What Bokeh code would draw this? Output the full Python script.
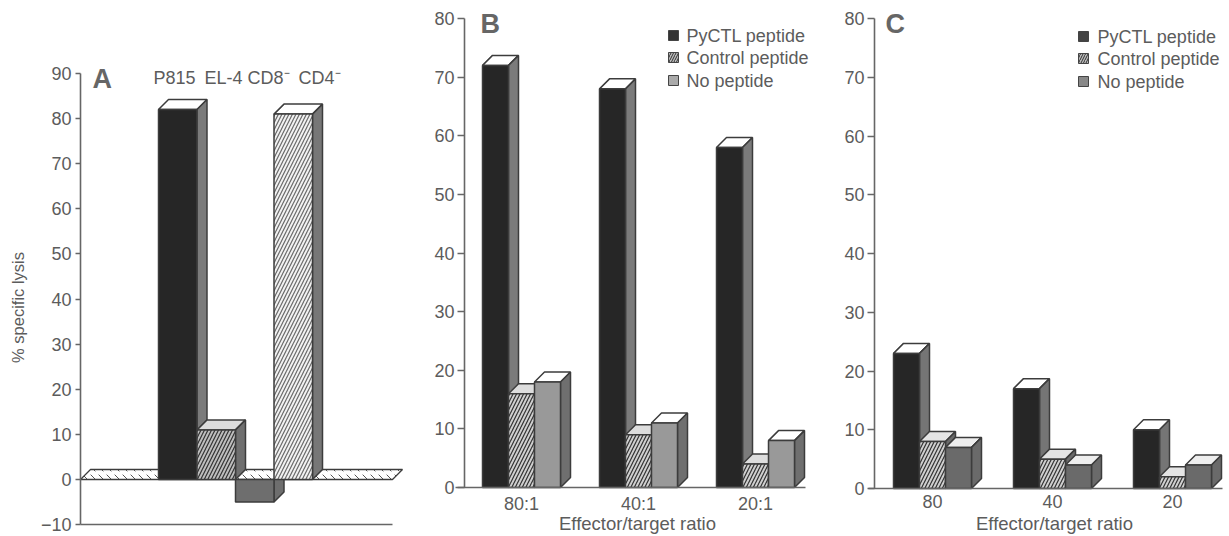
import math
from bokeh.plotting import figure
from bokeh.layouts import row
from bokeh.models import FixedTicker, Label
from bokeh.core.properties import value
from bokeh.embed import file_html
from bokeh.resources import INLINE

# ---- data ----
a_categories = ["P815", "EL-4", "CD8\u207b", "CD4\u207b"]
a_values = [82, 11, -5, 81]
a_ticks = [-10, 0, 10, 20, 30, 40, 50, 60, 70, 80, 90]

series_names = ["PyCTL peptide", "Control peptide", "No peptide"]
b_categories = ["80:1", "40:1", "20:1"]
b_pyctl = [72, 68, 58]
b_control = [16, 9, 4]
b_none = [18, 11, 8]
c_categories = ["80", "40", "20"]
c_pyctl = [23, 17, 10]
c_control = [8, 5, 2]
c_none = [7, 4, 4]
bc_ticks = [0, 10, 20, 30, 40, 50, 60, 70, 80]

TXT = "#5c5c5c"
AXC = "#666666"
EDGE = "#3c3c3c"
FONT = "Liberation Sans"
DEPTH = 10
FIG_H = 536


def make_panel(page_left, page_right, axis_px,
               zero_px, top_px, top_val, origin, xunit, ticks):
    sx = xunit
    sy = (zero_px - top_px) / top_val
    y_lo = -(FIG_H - zero_px) / sy
    y_hi = zero_px / sy
    x_start = (page_left - origin) / sx
    x_end = (page_right - origin) / sx
    p = figure(width=page_right - page_left, height=FIG_H,
               x_range=(x_start, x_end), y_range=(y_lo, y_hi),
               output_backend="svg", toolbar_location=None,
               min_border_left=0, min_border_right=0, min_border_top=0, min_border_bottom=0)
    p.grid.visible = False
    p.outline_line_color = None
    p.background_fill_color = "white"
    ya = p.yaxis[0]
    ya.ticker = FixedTicker(ticks=ticks)
    ya.bounds = (ticks[0], ticks[-1])
    ya.fixed_location = (axis_px - origin) / sx
    ya.minor_tick_line_color = None
    ya.major_tick_in = 0
    ya.major_tick_out = 7
    ya.axis_line_color = AXC
    ya.axis_line_width = 1.6
    ya.major_tick_line_color = AXC
    ya.major_tick_line_width = 1.4
    ya.major_label_standoff = 3
    ya.major_label_text_font = FONT
    ya.major_label_text_font_size = "18px"
    ya.major_label_text_color = TXT
    xa = p.xaxis[0]
    xa.fixed_location = ticks[0]
    xa.minor_tick_line_color = None
    xa.major_tick_line_color = None
    xa.axis_line_color = AXC
    xa.axis_line_width = 1.6
    xa.major_label_text_font = FONT
    xa.major_label_text_font_size = "18px"
    xa.major_label_text_color = TXT
    p._sx, p._sy, p._origin = sx, sy, origin
    p._zero = zero_px
    return p


def X(p, px):
    return (px - p._origin) / p._sx


def Y(p, py):
    return (p._zero - py) / p._sy


def bar(p, x0, x1, v, front, side, top, hatch=None, hatch_color="#333333", scale=7.0):
    dx = DEPTH / p._sx
    dy = DEPTH / p._sy
    lw = 1.5
    if v >= 0:
        p.patch([x0, x0 + dx, x1 + dx, x1], [v, v + dy, v + dy, v],
                fill_color=top, line_color=EDGE, line_width=lw)
    p.patch([x1, x1 + dx, x1 + dx, x1], [0, dy, v + dy, v],
            fill_color=side, line_color=EDGE, line_width=lw)
    kw = {}
    if hatch:
        kw = dict(hatch_pattern=hatch, hatch_color=hatch_color, hatch_scale=scale, hatch_weight=1.2)
    p.patch([x0, x1, x1, x0], [0, 0, v, v], fill_color=front, line_color=EDGE, line_width=lw, **kw)


def put_text(p, px, py, s, size="18px", style="normal", color=TXT, align="left"):
    p.text([X(p, px)], [Y(p, py)], text=[s], text_font=value(FONT), text_font_size=value(size),
           text_font_style=style, text_color=color, text_align=align, text_baseline="middle")


def axis_title(p, px, py, s, size="18.5px", angle=0.0):
    p.add_layout(Label(x=X(p, px), y=Y(p, py), text=s, text_font=FONT, text_font_size=size,
                       text_color=TXT, text_align="center", text_baseline="middle", angle=angle))


def legend(p, box_x, text_x, ys, fills, hatches):
    for name, y, f, h in zip(series_names, ys, fills, hatches):
        kw = {}
        if h:
            kw = dict(hatch_pattern=h, hatch_color="#333333", hatch_scale=5.0, hatch_weight=1.0)
        p.rect([X(p, box_x)], [Y(p, y)], width=10 / p._sx, height=10 / p._sy,
               fill_color=f, line_color="#444444", line_width=1, **kw)
        put_text(p, text_x, y, name)


def grouped(p, bw, series, styles):
    for g in range(len(series[0])):
        for s, vals in enumerate(series):
            bar(p, g + s * bw, g + (s + 1) * bw, vals[g], **styles[s])


# ---- panel A ----
pa = make_panel(0, 420, 80, 479, 73, 90, 158, 38.5, a_ticks)
pa.xaxis[0].ticker = FixedTicker(ticks=[])
pa.xaxis[0].bounds = (X(pa, 80), X(pa, 392))
pa.yaxis[0].major_tick_out = 5
pa.yaxis[0].major_label_standoff = 4
axis_title(pa, 17, 307, "% specific lysis", size="16.5px", angle=math.pi / 2)
d = DEPTH / pa._sy
pa.patch([X(pa, 80), X(pa, 90), X(pa, 402), X(pa, 392)], [0, d, d, 0],
         fill_color="white", line_color=EDGE, line_width=1.3,
         hatch_pattern="left_diagonal_dash", hatch_color="#555555", hatch_scale=8.0, hatch_weight=1.0)
a_styles = [
    dict(front="#262626", side="#7b7b7b", top="white"),
    dict(front="#bdbdbd", side="#6f6f6f", top="#dddddd", hatch="right_diagonal_line"),
    dict(front="#6e6e6e", side="#6e6e6e", top="#dddddd"),
    dict(front="#f2f2f2", side="#777777", top="white", hatch="right_diagonal_line", hatch_color="#6a6a6a"),
]
for i, v in enumerate(a_values):
    bar(pa, i, i + 1, v, **a_styles[i])
put_text(pa, 92, 78, "A", size="27px", style="bold", color="#666666")
for lx, s in zip([153, 204, 247, 298], a_categories):
    put_text(pa, lx, 77, s)

# ---- panel B ----
pb = make_panel(420, 830, 464, 487, 18, 80, 482, 117, bc_ticks)
pb.xaxis[0].ticker = FixedTicker(ticks=[39 / 117, 1 + 39 / 117, 2 + 39 / 117])
pb.xaxis[0].major_label_overrides = {g + 39 / 117: c for g, c in enumerate(b_categories)}
pb.xaxis[0].bounds = (X(pb, 455), X(pb, 805))
pb.xaxis[0].major_label_standoff = 0
grouped(pb, 26 / 117, [b_pyctl, b_control, b_none], [
    dict(front="#262626", side="#7b7b7b", top="white"),
    dict(front="#cfcfcf", side="#6f6f6f", top="#dddddd", hatch="right_diagonal_line"),
    dict(front="#999999", side="#6f6f6f", top="white"),
])
put_text(pb, 480, 23, "B", size="27px", style="bold", color="#666666")
legend(pb, 673, 686, [35, 57, 80], ["#333333", "#bbbbbb", "#aaaaaa"], [None, "right_diagonal_line", None])
axis_title(pb, 637, 523, "Effector/target ratio")

# ---- panel C ----
pc = make_panel(830, 1229, 874, 488, 18, 80, 893, 120, bc_ticks)
pc.xaxis[0].ticker = FixedTicker(ticks=[39 / 120, 1 + 39 / 120, 2 + 39 / 120])
pc.xaxis[0].major_label_overrides = {g + 39 / 120: c for g, c in enumerate(c_categories)}
pc.xaxis[0].bounds = (X(pc, 868), X(pc, 1222))
pc.xaxis[0].major_label_standoff = 0
grouped(pc, 26 / 120, [c_pyctl, c_control, c_none], [
    dict(front="#262626", side="#757575", top="white"),
    dict(front="#cfcfcf", side="#6a6a6a", top="#e4e4e4", hatch="right_diagonal_line"),
    dict(front="#6a6a6a", side="#6a6a6a", top="#eeeeee"),
])
put_text(pc, 885, 23, "C", size="27px", style="bold", color="#666666")
legend(pc, 1083, 1097, [36, 58, 81], ["#444444", "#bbbbbb", "#888888"], [None, "right_diagonal_line", None])
axis_title(pc, 1054, 523, "Effector/target ratio")

layout = row(pa, pb, pc, spacing=0)
open("out.html", "w").write(file_html(layout, INLINE))
